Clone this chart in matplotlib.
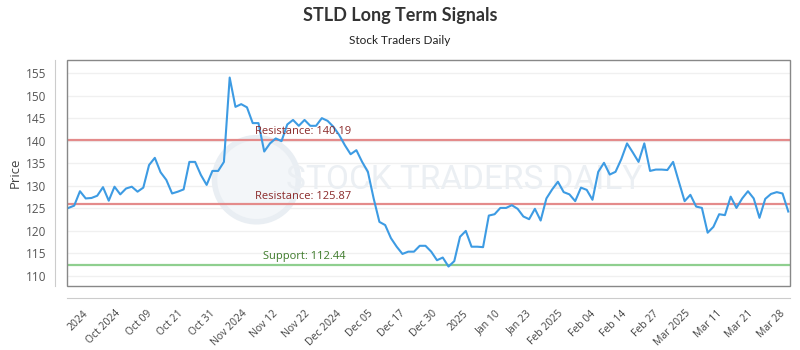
import matplotlib
matplotlib.use('Agg')
import matplotlib.pyplot as plt
from matplotlib.patches import Rectangle, Ellipse
import numpy as np

# closing prices, one per trading day
prices = [125.1, 125.6, 128.8, 127.2, 127.3, 127.8, 129.7, 126.7, 129.8, 128.1,
          129.4, 129.8, 128.7, 129.6, 134.6, 136.2, 133.0, 131.3, 128.3, 128.7,
          129.2, 135.3, 135.3, 132.4, 130.2, 133.3, 133.3, 135.3, 154.0, 147.5,
          148.1, 147.4, 143.9, 143.9, 137.6, 139.4, 140.5, 139.9, 143.6, 144.6,
          143.3, 144.6, 143.3, 143.3, 145.0, 144.4, 143.1, 141.3, 139.0, 137.0,
          137.9, 135.3, 133.1, 127.2, 122.0, 121.3, 118.4, 116.5, 114.9, 115.4,
          115.4, 116.7, 116.7, 115.4, 113.5, 114.1, 112.1, 113.3, 118.7, 120.0,
          116.5, 116.5, 116.4, 123.4, 123.7, 125.1, 125.1, 125.7, 124.9, 123.2,
          122.6, 124.9, 122.3, 127.2, 129.2, 130.9, 128.6, 128.1, 126.6, 129.6,
          129.1, 126.9, 133.1, 135.1, 132.5, 133.1, 135.9, 139.4, 137.4, 135.3,
          139.4, 133.3, 133.6, 133.6, 133.5, 135.3, 130.9, 126.6, 128.0, 125.4,
          125.1, 119.6, 120.9, 123.7, 123.5, 127.6, 125.1, 127.2, 128.8, 127.2,
          122.9, 127.1, 128.2, 128.6, 128.3, 124.3]

tick_labels = ['2024', 'Oct 2024', 'Oct 09', 'Oct 21', 'Oct 31', 'Nov 2024',
               'Nov 12', 'Nov 22', 'Dec 2024', 'Dec 05', 'Dec 17', 'Dec 30',
               '2025', 'Jan 10', 'Jan 23', 'Feb 2025', 'Feb 04', 'Feb 14',
               'Feb 27', 'Mar 2025', 'Mar 11', 'Mar 21', 'Mar 28']

resistance_hi = 140.19
resistance_lo = 125.87
support = 112.44

lab_font = ['Open Sans', 'DejaVu Sans']

fig = plt.figure(figsize=(8, 3.5), dpi=100)
ax = fig.add_axes([0.08375, 0.183, 0.90375, 0.6457])

# spines first: moving them resets the tick labels
for side in ['top', 'right']:
    ax.spines[side].set_visible(False)
ax.spines['left'].set_position(('outward', 9))
ax.spines['bottom'].set_position(('outward', 9))
ax.spines['left'].set_color('#cccccc')
ax.spines['bottom'].set_color('#cccccc')
ax.add_patch(Rectangle((0, 0), 1, 1, transform=ax.transAxes, fill=False,
                       edgecolor='#888888', lw=1, clip_on=False, zorder=7))

x = np.arange(len(prices))
ax.plot(x, prices, color='#3d9be3', lw=1.5, zorder=5)

ax.axhline(resistance_hi, color='#e48b8b', lw=1.6, zorder=3)
ax.axhline(resistance_lo, color='#e48b8b', lw=1.6, zorder=3)
ax.axhline(support, color='#8fcf8f', lw=1.6, zorder=3)

ax.text(0.26, resistance_hi + 0.6, f'Resistance: {resistance_hi:.2f}', color='#8b2a2a',
        fontsize=8, family=lab_font, transform=ax.get_yaxis_transform(), va='bottom', zorder=6)
ax.text(0.26, resistance_lo + 0.6, f'Resistance: {resistance_lo:.2f}', color='#8b2a2a',
        fontsize=8, family=lab_font, transform=ax.get_yaxis_transform(), va='bottom', zorder=6)
ax.text(0.271, support + 0.6, f'Support: {support:.2f}', color='#3d7a2a',
        fontsize=8, family=lab_font, transform=ax.get_yaxis_transform(), va='bottom', zorder=6)

# watermark
ax.add_patch(Ellipse((0.262, 0.47), 0.116, 0.372, transform=ax.transAxes, facecolor='#f3f6f9',
                     edgecolor='#e9eef3', lw=4, zorder=1))
ax.text(0.55, 0.47, 'STOCK TRADERS DAILY', transform=ax.transAxes, ha='center', va='center',
        fontsize=24, color='#ebeff3', family=['Roboto', 'DejaVu Sans'], zorder=1)

ax.set_xlim(-0.25, len(prices) - 0.7)
ax.set_ylim(107.8, 157.9)
ax.yaxis.grid(True, color='#f0f0f0', lw=1)
ax.set_axisbelow(True)

ticks = np.linspace(2.5, 123.5, len(tick_labels))
ax.set_xticks(ticks)
ax.set_xticklabels(tick_labels, rotation=45, ha='right', rotation_mode='anchor',
                   fontsize=7.5, color='#444444', family=lab_font)
ax.set_yticks(np.arange(110, 156, 5))
ax.set_yticklabels([str(v) for v in range(110, 156, 5)], family=lab_font)
ax.tick_params(axis='y', length=0, labelsize=8.5, labelcolor='#555555', pad=6)
ax.tick_params(axis='x', length=0, pad=7)

ax.set_ylabel('Price', fontsize=9.5, color='#444444', family=lab_font)
ax.yaxis.set_label_coords(-0.063, 0.5)

fig.text(0.5, 0.955, 'STLD Long Term Signals', ha='center', va='center', fontsize=13,
         fontweight='bold', color='#333333', family=['Lato', 'DejaVu Sans'])
fig.text(0.5, 0.885, 'Stock Traders Daily', ha='center', va='center', fontsize=8.5,
         color='#222222', family=['Lato', 'DejaVu Sans'])

fig.savefig('out.png', dpi=100)
